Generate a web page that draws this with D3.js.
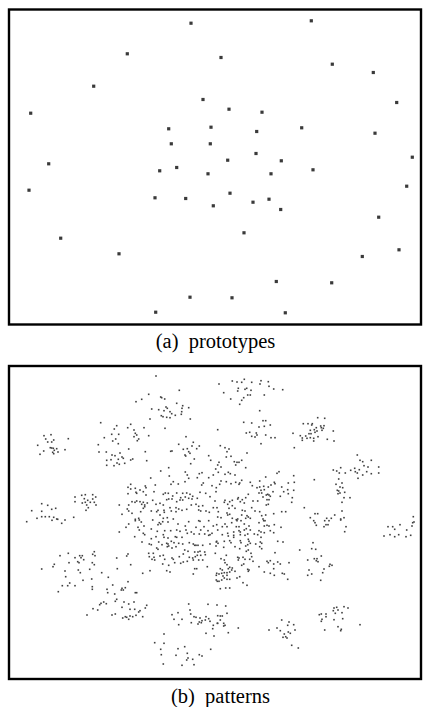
<!DOCTYPE html>
<html>
<head>
<meta charset="utf-8">
<script src="https://cdn.jsdelivr.net/npm/d3@7/dist/d3.min.js"></script>
<style>
  html, body { margin: 0; padding: 0; background: #fff; }
  svg { display: block; }
  .caption { font-family: "Liberation Serif", "Times New Roman", serif; font-size: 20.5px; fill: #000; }
</style>
</head>
<body>
<svg id="fig" width="430" height="707"></svg>
<script>
// Prototype positions in the 2-D map (x, y), panel units
const prototypes = [
  [182,13.7],[118.3,44.3],[212,48],[84.7,76.7],[194,90],[21.7,103.7],[159.7,119.3],[202,117.7],
  [162.3,134.3],[201.3,134.3],[39.7,154.3],[150.7,161.3],[167.7,158],[199,164.3],[20,180.7],
  [146,188.3],[176.7,189],[204.3,196.3],[51.7,228.7],[110,244.3],[181,287.7],[146.7,302.7],
  [302.3,11.3],[323.3,54.7],[364.3,63],[387.7,93],[220,99.7],[253,102.7],[247.7,122],[292.7,118.3],
  [366,123.7],[247,144],[218.7,150.7],[272.3,151.3],[403.3,147.7],[262,164.3],[304,160.3],
  [397.7,176.7],[221,183.7],[244,192.7],[260,189.7],[271.7,200],[369.7,207.7],[235,223.3],
  [390,240.3],[353.3,247],[267.3,272],[322.7,273.3],[223,288.3],[276.3,303.3]
];

// Pattern positions, grouped by region of the map
const patternsWest = [
  [91.7,56.7],[95.3,71.7],[89.3,78.7],[90,86],[97.3,86],[97.7,94.3],[97.7,99.3],
  [42,68.7],[35,69.7],[44.7,74],[36.7,73],[38.7,76],[42.7,76],[28.7,79.3],[41.3,81.7],[42.7,82],
  [44.3,82.3],[47.7,82.7],[45.3,84.3],[43.7,86.3],[34.7,85],[31,88.3],[49,86],[44.7,87.7],[56,83.7],[59.3,72.7],
  [72.7,129.3],[76.3,128.7],[83.7,128.7],[66,131],[86.7,131],[75.3,132.7],[78.7,134.3],[83.7,133],
  [66,135.7],[73.3,137],[76.3,136.3],[81.3,136.3],[85.3,136.3],[77.7,139],[79.3,141.7],[87,139],[77,144.3],
  [32.7,137.7],[38.7,139.3],[22.7,144.7],[42.7,143.3],[46.7,142.3],[32.7,145.3],[28,152.3],[32.7,150.7],
  [36.3,150.7],[40.3,150.7],[44.7,151.3],[47.7,153],[43,154.3],[48.7,153.3],[64.7,151.3],
  [17.7,155.7],[52.7,157.3],[56,154],
  [85.3,185.7],[83.7,188.3],[86,189.7],[59.3,187.3],[51,189.7],[70.7,189.7],[73.3,189.7],[66,191.7],
  [72,191.7],[74.7,193.7],[68.7,195.7],[70,196.7],[83.3,196.7],[85.3,198.7],[60,196.7],[45.3,198.3],
  [44,200.7],[32.7,203],[69.3,204],[80.7,203.3],[71.3,206.7],[56,205],[92.7,206.7],[56.7,210.7],
  [99.3,211.3],[74,214.3],[82.7,213],[60.7,217],[53.3,219.7],[58.7,219.7],[66,219.7],[83.3,220.7],
  [83.3,223.3],[98,223.3],[98.7,226.7],[49.3,225.7],[94.7,236],[92,237.3],[90.7,238.7],[97.3,237.7],
  [84,242.7],[88.7,244],[78,249]
];

const patternsUpperMiddle = [
  [147,10],[170.3,24.3],[139.7,28.3],[132.7,33.3],[127,35.7],[151.7,31],[152.7,31.7],[155.7,33],
  [167.7,37.3],[173.7,39.7],[173,42.3],[179.7,41.7],[142.7,43],[157,41],[158.3,42.3],[149.7,43.7],
  [161,45.7],[162.7,47.7],[155,44.7],[172.7,45.7],[172.3,48.3],[166.3,49.3],[152.3,49.7],[154,50.7],
  [157.7,51.3],[161,51.7],[141,53],[181.3,53],
  [121.7,58.3],[107.7,59.7],[118.7,61.7],[135,61.7],[125,64],[126.3,67.3],[127.7,69],[129.7,73],
  [128.3,74.7],[105.3,63],[102.7,68.3],[109.7,68.3],[106.7,73],[109.3,77.7],[139.7,69.7],[125,70.7],
  [103.7,75],[119.7,83],[156,62.3],[136.3,85.7],[103,89],[106,89.7],[111,87],[113,91],[114.3,92.3],
  [109.3,93.3],[123.7,93],[121.7,94],[102,93.7],[108,97],[110.3,98.3],[105,99.7],[115.7,97.3],
  [137.7,94.7],[163,85],[161.7,85.3],
  [177,70.7],[169.7,78.3],[174.3,83.3],[178.3,82.7],[183,80],[179.7,85.7],[181,87.3],[176,89],
  [176.7,90],[187.7,82.7],[190.3,80],[184.3,76.3],[199.7,89.7],[201.7,94.3],[181.7,97.7],[185.3,93],
  [210,18],[223.3,15],[228,16],[235.3,13.3],[232.7,16.3],[242.7,16.3],[252,14.7],[259.3,15.7],
  [251,18],[260,20.3],[229.3,22.3],[228.7,25],[236,23.3],[237.7,22.3],[242,24.3],[264.7,23],
  [273.7,23.7],[214.7,26.7],[238.7,29],[241.3,29],[255.3,29],[234.7,31.7],[232.7,34.3],[221.7,33],[230.7,38.3],
  [250.7,44.7],[254,54.7],[256.7,54.7],[242.7,57],[250,61],[255.3,60.3],[261.3,59],[234.7,56.3],
  [237.3,67],[240.7,66.3],[247.3,67],[248,69],[242.7,70.3],[246,71],[256.7,69],[262,71.7],[266,71.7],[252,77.7]
];

const patternsEast = [
  [308.7,51.7],[294.3,57.7],[299,57.7],[302.7,59],[303.3,57.7],[307.3,61.7],[305.3,63.7],[301.3,64.3],
  [284,67.3],[291.3,69.7],[296.7,70],[300,67.7],[302,67.7],[306,66.3],[308,65],[293.3,72],[293.3,74.3],
  [298,72.3],[301.3,71.7],[304.7,72.3],[304.7,75],[285.3,81.7],
  [315.7,52.3],[311.7,60],[315,59.7],[312.3,61.7],[314.3,62.3],[313,64.3],[324.3,65],[309,70.7],
  [318.3,73.3],[325,75],
  [348.3,89],[351,94.3],[353.7,95.7],[362.3,94.3],[355,99.7],[359,101],[369.7,101],[331.7,101.7],
  [324.3,104],[327.7,105],[330.3,107],[336.3,107],[341.7,104.3],[345.7,102.3],[346.3,105.7],[348.3,107],
  [350.3,103.7],[357.7,105.7],[362.3,107.7],[369.7,107],[353.7,109],[349,112.3],
  [329.7,113],[333,117],[327,118.3],[331,121],[333.7,121.7],[328.3,124.3],[329.7,125],[331,127],
  [335.7,126.3],[329,127.7],[335,131.7],[341,131.7],[333,136.3],[333,145],[325.7,149],[335,151.7],
  [331.7,153],[317.7,152.3],[322.3,152.3],[404.3,150.7],
  [315.7,154.7],[320,154.7],[331.7,154],[317,158.7],[319,158.7],[315,160.7],[337,160.7],[335.7,165.7],
  [379,160.7],[383.7,160.7],[385.7,163.3],[391,158.7],[403,160],[405,156],[403.7,156.7],[397.7,164],
  [381,168.7],[389.7,168.7],[375,170],[385.7,170.7],[397,170.7],[401.7,169.3],
  [312.3,190],[309,195.7],[321,198.3],[323,199.3],[320.3,200.3],[315,203],[313.7,206.7],[311.7,214.3],
  [325,242],[327.7,241.3],[335,240.7],[339,242],[324.3,244.7],[329,244],[326.3,247.3],[333,246.7],
  [310.3,248.7],[312.3,248],[317,248],[317,250.7],[313,253.3],[312.3,255.3],[325,253.7],[333.7,252.7],
  [329,260.7],[332.3,263.3],[331.7,264.7],[315.7,264],[351,258.7]
];

const patternsCore = [
  [151.7,105],[159.7,101.7],[176.3,106],[178.3,109],[193,106.7],[190.3,107.7],[160.3,110],[164.3,115.7],
  [162,118.3],[169.3,118],[176,115.7],[179.7,112.3],[188.3,111.7],[194.3,117],[192.7,119],[199.7,111.7],
  [141.7,112],[204.3,109],[121.7,118.3],[119,121.3],[126.3,122.3],[121.7,123],[131,124],[127,126.3],
  [134.3,125.7],[136.3,120],[137,121.7],[146.3,119],[145,125.7],[137,129],[119,127.7],[127.7,127.3],
  [154.3,128.3],[156.3,127],[159.3,127.3],[167.7,127],[163.7,130],[173.7,127.3],[177.7,127],[181,128.3],
  [183.7,130.3],[176.3,131],[171.7,131.7],[171,134],[167.7,135.7],[173.7,134],[179.7,132.3],[183,133],
  [188.3,132.3],[191,126.3],[196.7,127.3],[201,130.7],[207,125.7],[203,119.7],[159.7,133],[163,133],
  [157.7,133.7],[151,137.3],[154.3,139],[147,138.3],[143.7,134.3],[138.3,137],[134.3,136.3],[131,135.7],
  [127.7,135],[123,135.7],[119.7,139],[126,136.3],[132.7,138.3],[135.7,139],[134.3,142.3],[131.7,145.7],
  [135.7,140.7],[142.3,145],[149,144.3],[147.7,145.7],[155,144.3],[155.3,146.3],[161,141.7],[162.3,145],
  [167,141.7],[169.7,143],[167,145.7],[173,144.3],[177.7,143.3],[182.3,139],[187,138.3],[189.7,140.3],
  [193.7,139.7],[197,145],[200.3,146.3],[204.3,141.7],[189.7,144],[191.7,145],[118.3,143],[119.7,145],
  [110.3,139],[113,148.3],[123,147.3],[126.3,153.3],[129.7,152.3],[151,149],[154.3,152.3],[158.3,151.7],
  [164.3,153],
  [208.7,63.7],[211.3,79.7],[216,81.7],[220,83],[218,85.7],[222,90.3],[217.3,91],[225.3,95.7],[228,96.3],
  [230,96.3],[232.7,94.3],[226.7,99],[210,96.3],[208.7,99],[212,101],[206.7,103],[209.3,106.3],
  [219.3,106.3],[221.3,107.7],[226,109],[216,108.3],[212,115],[210.7,118.3],[207.3,121.7],[217.3,115.7],
  [222,117.7],[226.7,116.3],[230.7,117],[230,118.3],[232.7,114.3],[238,87],[236.7,101.7],[206,135],
  [215.3,136.3],[216,134.3],
  [268,107.3],[270,105.7],[284.7,109.7],[285.3,116.3],[279.3,117],[305.3,113.7],[256.7,111],[250.7,115],
  [262,119],[266,117.7],[265.3,116.3],[272.7,121],[274.7,125.7],[278.7,123.7],[279.3,127.7],[283.3,131.7],
  [284.7,124.3],[282.7,136.3],[295.3,141.7],[306,147.7],[308.7,147.7],[301.3,151.7],[276.7,145.7],
  [241.3,116.3],[243.3,119.7],[248,121.7],[250.7,121],[254.7,120.3],[259.3,121],[252,124.3],[255.3,123.7],
  [250,127],[252.7,127],[257.3,129],[258.7,128.3],[260,129],[254,131],[258,133.7],[260,133.7],
  [261.3,130.3],[259.3,138.3],[257.3,139],[248.7,135],[244,135],[239.3,128.3],[236.7,131.7],[233.3,133.7],
  [235.3,137],[231.3,135.7],[228.7,133],[229.3,131.7],[223.3,134.3],[220.7,135.7],[218.7,138.3],[220,142.3],
  [223.3,139.7],[226,142.3],[208,141.7],[209.3,145.7],[208.7,151],[212,151.7],[218,147],[218.7,149],
  [220.7,148.3],[223.3,152.3],[227.3,153.7],[228.7,153],[232.7,149],[233.3,144.3],[236,145],[238,149.7],
  [239.3,151],[236.7,152.3],[241.3,152.3],[246,145],[242.7,141.7],[250.7,145.7],[252.7,149.7],[256.7,149],
  [254,153],[264.7,147.7],[272.7,145.7],[271.3,130.3],[264,125.7]
];

const patternsLowerCore = [
  [126.3,154.7],[130.3,154],[132.3,156],[143.7,154],[150.3,156.7],[151.7,158],[153.7,155.7],[159,156],
  [179.7,155.7],[189.7,154.7],[191,155.3],[199.7,154.7],[119.7,158],[117,161.3],[129,161.3],[135,160],
  [149,158.7],[169,158],[176.3,160],[187,161.3],[195,160.7],[204.3,160],[207.7,158.7],[110.3,166],
  [130.3,164],[134.3,167.3],[142.3,163],[148.3,165.3],[155.7,164.7],[161.7,164.7],[167.7,164],[171,165.3],
  [177,164],[182.3,166],[185,168],[191.7,164],[199,164.7],[203,167.3],[125.7,170.7],[135.7,168.7],
  [142.3,172.7],[147,170.7],[154.3,168.7],[155,171.3],[159,172],[166.3,170.7],[167.7,171.3],[173,171.3],
  [178.3,167.3],[190.3,168],[195.7,168],[199.7,169.3],[201,168.7],[133,176],[140.3,178],[142.3,178.7],
  [149.7,176],[153,178.7],[157.7,177.3],[159,178],[162.3,175.3],[165,176.7],[169.7,177.3],[173.7,178],
  [180.3,176.7],[184.3,178],[185.7,179.3],[187,179.3],[189,179.3],[193.7,179.3],[201,178],[207.7,175.3],
  [209,177.3],[207,180],[147.7,182],[149,183.3],[158.3,180.7],[159.7,180],[163,182],[167,180.7],
  [175.7,184],[179,185.3],[185.7,186],[189,186],[191,185.3],[195.7,186],[174.3,188],[144.3,187.3],
  [139.7,187.3],[119,188],[117.7,190],[140.3,190.7],[145,191.3],[151,190],[154.3,189.3],[163,192],
  [164.3,193.3],[170.3,190.7],[180.3,191.3],[183.7,192],[186.3,190.7],[188.3,189.3],[191.7,189.3],
  [196.3,188.7],[206.3,187.3],[143,193.3],[145.7,194],[155.7,193.3],[107.7,192],[178.3,195.3],[184.3,194],
  [189.7,194],[193.7,194],[121.7,198.7],[153.7,198],[159.7,199.3],[165.7,196.7],[171.7,197.3],[174.3,196],
  [198.3,200.7],[108.3,202.7],[141,204.7],[133.7,207.3],[157.7,204.7],[161,206],[185.7,202.7],[187.7,202.7],
  [184.3,208],[207.7,207.3],[208.3,215.3],
  [216,158],[213.3,160.7],[218,160.7],[222.7,156.7],[227.3,160.7],[230,160.7],[228,154.7],[232,154.7],
  [235.3,158],[240,160],[250,156.7],[254.7,154.7],[256,154.7],[255.3,160],[258,159.3],[260,160],
  [265.3,158.7],[272,161.3],[304.7,154.7],[306,156.7],[307.3,159.3],[208.7,164],[213.3,168.7],[218.7,167.3],
  [219.3,170],[224.7,166],[224.7,169.3],[230,164.7],[231.3,166],[235.3,164],[237.3,162.7],[231.3,168.7],
  [236,169.3],[238.7,168],[241.3,164],[245.3,168],[250,164.7],[252,166],[255.3,166.7],[261.3,164.7],
  [264.7,166.7],[248.7,168.7],[252,171.3],[224.7,171.3],[207.3,176],[215.3,175.3],[220.7,174.7],[222,176.7],
  [231.3,174.7],[232,176.7],[239.3,173.3],[240,175.3],[238.7,178.7],[236.7,180],[241.3,177.3],[246.7,178],
  [251.3,176],[252.7,177.3],[268.7,175.3],[274,176],[214.7,181.3],[226,180.7],[230.7,182.7],[239.3,184],
  [237.3,185.3],[242,187.3],[250.7,180.7],[252.7,182.7],[266,186.7],[304,176.7],[302.7,182.7],[306.7,183.3],
  [290.7,184],[217.3,189.3],[215.3,194],[212,192.7],[228.7,191.3],[230,192],[234,191.3],[236,193.3],
  [240.7,193.3],[242.7,190.7],[229.3,194],[244,195.3],[234.7,198],[216,196.7],[218,198.7],[211.3,202.7],
  [213.3,204],[219.3,202.7],[220.7,201.3],[223.3,202],[222.7,204],[215.3,206.7],[210,208],[212.7,207.3],
  [218,206.7],[220.7,206],[207.3,209.3],[214,210],[218,209.3],[226,205.3],[232.7,199.3],[238.7,203.3],
  [240,204],[239.3,205.3],[250,200.7],[258,195.3],[259.3,196.7],[261.3,194.7],[264.7,198],[268.7,196],
  [271.3,198],[280,196.7],[264.7,202.7],[255.3,206],[261.3,207.3],[265.3,209.3],[273.3,207.3],[275.3,208],
  [278.7,213.3],[228,212],[230.7,210.7],[207.3,214],[210,215.3],[212.7,214],[215.3,212],[218,213.3],
  [220.7,213.3],[234,216.7],[238,219.3],[211.3,222.7],[216.7,222],[220.7,222],[298.7,194],[305.3,192.7],
  [308,192.7],[307.3,194.7],[300,204],[298.7,209.3],[302.7,208]
];

const patternsSouth = [
  [103.7,219],[119,215.7],[113,222.3],[116.3,221.7],[114.3,224],[112.3,224],[105.7,228],[127.7,226.7],
  [126.3,226.7],[107.7,233.3],[106.3,235.3],[115,236],[119.7,238],[125,236],[137.7,239.3],[136.3,242],
  [121,243.3],[125.7,243.3],[131,244.7],[129.7,246],[113,241.3],[121,250],[127,249.3],[123.7,250.7],
  [133.7,250.7],[116.3,250.7],[117.7,251.3],[113.7,252],[119.7,253.3],[103,249],[106.3,248],
  [179.7,238],[199,238.3],[181,244],[181.7,248],[163,248.7],[169,246.7],[185,250.7],[187,251.3],
  [191,252],[197,250.7],[199.7,252.7],[201,255.3],[193,254.7],[196.3,254],[190.3,256],[173,253.3],
  [165,253.3],[182.3,256.7],[189,258],[192.3,256.7],[169.7,258.7],[204.3,259.3],[203.7,262.7],[208.3,257.3],
  [197,267.3],[205,270],[201.7,283.3],
  [155,268],[145.7,276.7],[155,277.3],[175.7,280.7],[169,282.7],[151.7,283.3],[178.3,287.3],[152.3,288.7],
  [167,289.3],[190.3,288.7],[193,290],[179,292],[177.7,294],[183.7,293.3],[185,298.7],[173,299.3],[154.3,298],
  [208,239],[216.7,240],[208.7,249.7],[211.3,250],[213.3,250],[218,247.3],[211.3,254],[208.7,257.3],
  [214.7,257.3],[216,259.3],[214.7,260],[219.3,266.7],[229.3,262],
  [272.7,254],[280,256],[284.7,258.7],[278.7,259.3],[268,262],[260,264],[271.3,264.7],[275.3,268],
  [279.3,266],[281.3,267.3],[286,264],[276.7,270.7],[278,272],[274,271.3],[282.7,279.3],[289.3,282]
];

const svg = d3.select("#fig");

// Shared horizontal scale; one vertical scale per panel
const x = d3.scaleLinear().domain([0, 412]).range([9, 421]);
const yTop = d3.scaleLinear().domain([0, 315]).range([9.5, 324.5]);
const yBottom = d3.scaleLinear().domain([0, 313]).range([366, 679]);

function frame(yScale) {
  const [y0, y1] = yScale.range();
  svg.append("rect")
    .attr("x", x(0)).attr("y", y0)
    .attr("width", x(412) - x(0)).attr("height", y1 - y0)
    .attr("fill", "none").attr("stroke", "#000").attr("stroke-width", 2.4);
}

// (a) prototypes
frame(yTop);
const protoSize = 3.2;
svg.append("g").selectAll("rect").data(prototypes).join("rect")
  .attr("x", d => x(d[0]) - protoSize / 2)
  .attr("y", d => yTop(d[1]) - protoSize / 2)
  .attr("width", protoSize).attr("height", protoSize)
  .attr("fill", "#3a3a3a");

svg.append("text").attr("class", "caption")
  .attr("x", 215.5).attr("y", 348).attr("text-anchor", "middle")
  .attr("xml:space", "preserve")
  .text("(a)  prototypes");

// (b) patterns
frame(yBottom);
const patterns = [].concat(patternsWest, patternsUpperMiddle, patternsEast,
                           patternsCore, patternsLowerCore, patternsSouth);
const dotSize = 1.6;
svg.append("g").selectAll("rect").data(patterns).join("rect")
  .attr("x", d => x(d[0]) - dotSize / 2)
  .attr("y", d => yBottom(d[1]) - dotSize / 2)
  .attr("width", dotSize).attr("height", dotSize)
  .attr("fill", "#404040");

svg.append("text").attr("class", "caption")
  .attr("x", 220.5).attr("y", 703).attr("text-anchor", "middle")
  .attr("xml:space", "preserve")
  .text("(b)  patterns");
</script>
</body>
</html>
